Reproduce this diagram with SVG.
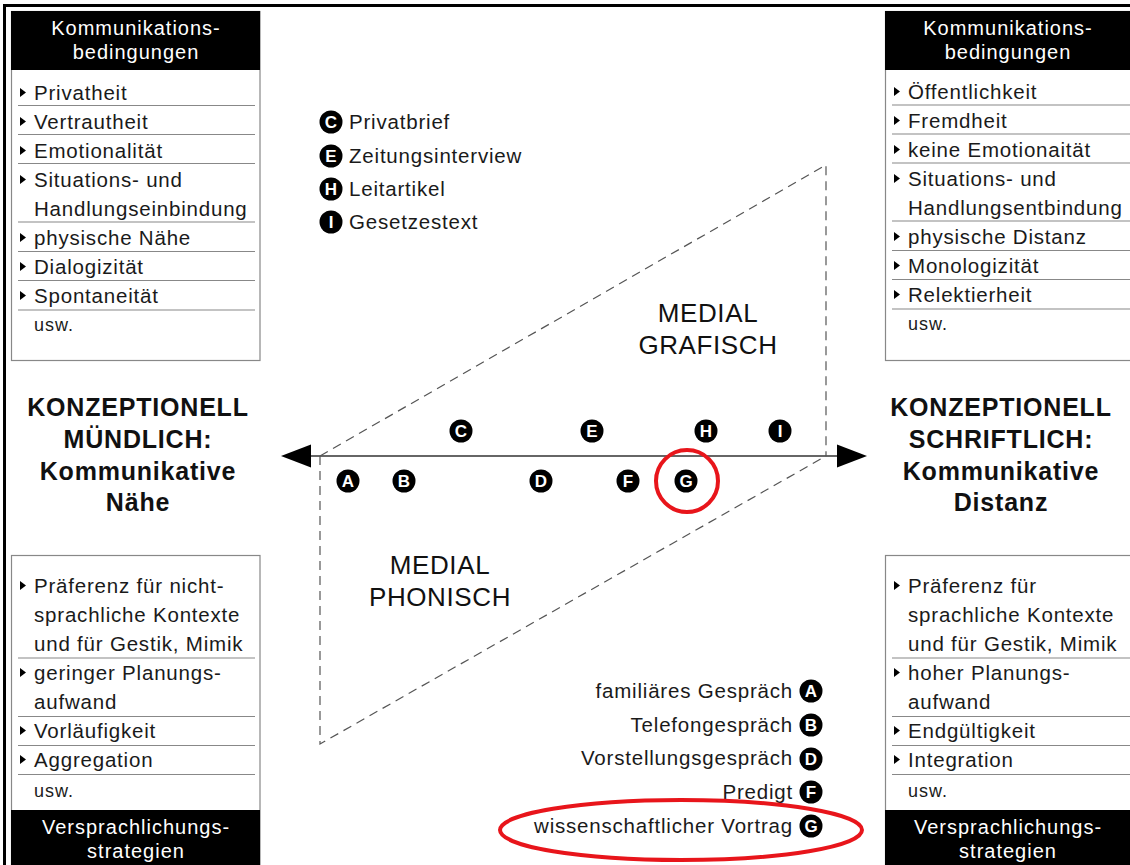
<svg xmlns="http://www.w3.org/2000/svg" xmlns:xlink="http://www.w3.org/1999/xlink" width="1130" height="865" viewBox="0 0 1130 865">
<style>
.t{font-family:"Liberation Sans",Arial,sans-serif;font-size:20.5px;letter-spacing:0.8px;fill:#1a1a1a}
.u{font-size:18px;letter-spacing:1px}
.h{font-family:"Liberation Sans",Arial,sans-serif;font-size:20px;letter-spacing:1px;fill:#fff;text-anchor:middle}
.big{font-family:"Liberation Sans",Arial,sans-serif;font-size:25px;letter-spacing:0.8px;font-weight:bold;fill:#111;text-anchor:middle}
.med{font-family:"Liberation Sans",Arial,sans-serif;font-size:26px;letter-spacing:0.6px;fill:#111;text-anchor:middle}
.box{fill:#fff;stroke:#888;stroke-width:1.2}
.sep{stroke:#888;stroke-width:1.2}
.dash{fill:none;stroke:#555;stroke-width:1.2;stroke-dasharray:9,6}
.bl{fill:#000}
.bt{font-family:"Liberation Sans",Arial,sans-serif;font-size:17px;font-weight:bold;fill:#fff;text-anchor:middle}
.lg{font-family:"Liberation Sans",Arial,sans-serif;font-size:20.5px;letter-spacing:0.8px;fill:#1a1a1a}
.red{fill:none;stroke:#e8151b;stroke-width:4}
</style>
<defs>
<path id="tri" d="M0,0 L6,4.5 L0,9 Z" fill="#000"/>
<circle id="dot" r="11.5" fill="#000"/>
</defs>
<rect width="1130" height="865" fill="#fff"/>
<rect x="3" y="4" width="1127" height="3" fill="#000"/>
<rect x="3" y="4" width="3" height="861" fill="#000"/>

<g id="box-tl">
<rect class="box" x="11.5" y="11.5" width="248.5" height="349"/>
<rect class="bl" x="11" y="11" width="249" height="59"/>
<text class="h" x="136" y="35">Kommunikations-</text>
<text class="h" x="136" y="59">bedingungen</text>
<use xlink:href="#tri" x="20" y="88"/><text class="t" x="34" y="100">Privatheit</text>
<line class="sep" x1="18" y1="105.5" x2="255" y2="105.5"/>
<use xlink:href="#tri" x="20" y="117"/><text class="t" x="34" y="129">Vertrautheit</text>
<line class="sep" x1="18" y1="134.5" x2="255" y2="134.5"/>
<use xlink:href="#tri" x="20" y="146"/><text class="t" x="34" y="158">Emotionalität</text>
<line class="sep" x1="18" y1="163.5" x2="255" y2="163.5"/>
<use xlink:href="#tri" x="20" y="175"/><text class="t" x="34" y="187">Situations- und</text>
<text class="t" x="34" y="216">Handlungseinbindung</text>
<line class="sep" x1="18" y1="222" x2="255" y2="222"/>
<use xlink:href="#tri" x="20" y="233"/><text class="t" x="34" y="245">physische Nähe</text>
<line class="sep" x1="18" y1="251.5" x2="255" y2="251.5"/>
<use xlink:href="#tri" x="20" y="262"/><text class="t" x="34" y="274">Dialogizität</text>
<line class="sep" x1="18" y1="280.5" x2="255" y2="280.5"/>
<use xlink:href="#tri" x="20" y="291"/><text class="t" x="34" y="303">Spontaneität</text>
<line class="sep" x1="18" y1="310" x2="255" y2="310"/>
<text class="t u" x="34" y="331">usw.</text>
</g>

<g id="box-tr">
<rect class="box" x="885.5" y="11.5" width="250" height="349"/>
<rect class="bl" x="885" y="11" width="245" height="59"/>
<text class="h" x="1008" y="35">Kommunikations-</text>
<text class="h" x="1008" y="59">bedingungen</text>
<use xlink:href="#tri" x="894" y="87"/><text class="t" x="908" y="99">Öffentlichkeit</text>
<line class="sep" x1="892" y1="105" x2="1130" y2="105"/>
<use xlink:href="#tri" x="894" y="116"/><text class="t" x="908" y="128">Fremdheit</text>
<line class="sep" x1="892" y1="134" x2="1130" y2="134"/>
<use xlink:href="#tri" x="894" y="145"/><text class="t" x="908" y="157">keine Emotionaität</text>
<line class="sep" x1="892" y1="163" x2="1130" y2="163"/>
<use xlink:href="#tri" x="894" y="174"/><text class="t" x="908" y="186">Situations- und</text>
<text class="t" x="908" y="215">Handlungsentbindung</text>
<line class="sep" x1="892" y1="221" x2="1130" y2="221"/>
<use xlink:href="#tri" x="894" y="232"/><text class="t" x="908" y="244">physische Distanz</text>
<line class="sep" x1="892" y1="250.5" x2="1130" y2="250.5"/>
<use xlink:href="#tri" x="894" y="261"/><text class="t" x="908" y="273">Monologizität</text>
<line class="sep" x1="892" y1="279.5" x2="1130" y2="279.5"/>
<use xlink:href="#tri" x="894" y="290"/><text class="t" x="908" y="302">Relektierheit</text>
<line class="sep" x1="892" y1="309" x2="1130" y2="309"/>
<text class="t u" x="908" y="330">usw.</text>
</g>

<g id="box-bl">
<rect class="box" x="11.5" y="555.5" width="248.5" height="320"/>
<use xlink:href="#tri" x="20" y="581"/><text class="t" x="34" y="593">Präferenz für nicht-</text>
<text class="t" x="34" y="622">sprachliche Kontexte</text>
<text class="t" x="34" y="651">und für Gestik, Mimik</text>
<line class="sep" x1="18" y1="658" x2="255" y2="658"/>
<use xlink:href="#tri" x="20" y="668"/><text class="t" x="34" y="680">geringer Planungs-</text>
<text class="t" x="34" y="709">aufwand</text>
<line class="sep" x1="18" y1="716.5" x2="255" y2="716.5"/>
<use xlink:href="#tri" x="20" y="726"/><text class="t" x="34" y="738">Vorläufigkeit</text>
<line class="sep" x1="18" y1="745.5" x2="255" y2="745.5"/>
<use xlink:href="#tri" x="20" y="755"/><text class="t" x="34" y="767">Aggregation</text>
<line class="sep" x1="18" y1="774.5" x2="255" y2="774.5"/>
<text class="t u" x="34" y="797">usw.</text>
<rect class="bl" x="11" y="810" width="249" height="55"/>
<text class="h" x="136" y="834">Versprachlichungs-</text>
<text class="h" x="136" y="858">strategien</text>
</g>

<g id="box-br">
<rect class="box" x="885.5" y="555.5" width="250" height="320"/>
<use xlink:href="#tri" x="894" y="581"/><text class="t" x="908" y="593">Präferenz für</text>
<text class="t" x="908" y="622">sprachliche Kontexte</text>
<text class="t" x="908" y="651">und für Gestik, Mimik</text>
<line class="sep" x1="892" y1="658" x2="1130" y2="658"/>
<use xlink:href="#tri" x="894" y="668"/><text class="t" x="908" y="680">hoher Planungs-</text>
<text class="t" x="908" y="709">aufwand</text>
<line class="sep" x1="892" y1="716.5" x2="1130" y2="716.5"/>
<use xlink:href="#tri" x="894" y="726"/><text class="t" x="908" y="738">Endgültigkeit</text>
<line class="sep" x1="892" y1="745.5" x2="1130" y2="745.5"/>
<use xlink:href="#tri" x="894" y="755"/><text class="t" x="908" y="767">Integration</text>
<line class="sep" x1="892" y1="774.5" x2="1130" y2="774.5"/>
<text class="t u" x="908" y="797">usw.</text>
<rect class="bl" x="885" y="810" width="245" height="55"/>
<text class="h" x="1008" y="834">Versprachlichungs-</text>
<text class="h" x="1008" y="858">strategien</text>
</g>

<g id="label-left">
<text class="big" x="138" y="416">KONZEPTIONELL</text>
<text class="big" x="138" y="448">MÜNDLICH:</text>
<text class="big" x="138" y="480">Kommunikative</text>
<text class="big" x="138" y="511">Nähe</text>
</g>
<g id="label-right">
<text class="big" x="1001" y="416">KONZEPTIONELL</text>
<text class="big" x="1001" y="448">SCHRIFTLICH:</text>
<text class="big" x="1001" y="480">Kommunikative</text>
<text class="big" x="1001" y="511">Distanz</text>
</g>

<g id="connectors">
<line x1="308" y1="456" x2="840" y2="456" stroke="#333" stroke-width="1.6"/>
<path d="M281,456 L311,444.5 L311,467.5 Z" fill="#000"/>
<path d="M867,456 L837,444.5 L837,467.5 Z" fill="#000"/>
<path class="dash" d="M320,456 L826,165 L826,456"/>
<path class="dash" d="M320,456 L320,744 L826,456"/>
</g>

<g id="medial-grafisch"><text class="med" x="708" y="322">MEDIAL</text><text class="med" x="708" y="354">GRAFISCH</text></g>
<g id="medial-phonisch"><text class="med" x="440" y="574">MEDIAL</text><text class="med" x="440" y="606">PHONISCH</text></g>

<g id="badges">
<g transform="translate(461,431)"><use xlink:href="#dot"/><text class="bt" y="6">C</text></g>
<g transform="translate(592,431)"><use xlink:href="#dot"/><text class="bt" y="6">E</text></g>
<g transform="translate(706,431)"><use xlink:href="#dot"/><text class="bt" y="6">H</text></g>
<g transform="translate(780,431)"><use xlink:href="#dot"/><text class="bt" y="6">I</text></g>
<g transform="translate(348,481)"><use xlink:href="#dot"/><text class="bt" y="6">A</text></g>
<g transform="translate(404,481)"><use xlink:href="#dot"/><text class="bt" y="6">B</text></g>
<g transform="translate(541,481)"><use xlink:href="#dot"/><text class="bt" y="6">D</text></g>
<g transform="translate(628,481)"><use xlink:href="#dot"/><text class="bt" y="6">F</text></g>
<g transform="translate(686,481)"><use xlink:href="#dot"/><text class="bt" y="6">G</text></g>
<circle class="red" cx="687" cy="481" r="31"/>
</g>

<g id="legend-top">
<g transform="translate(331,122)"><use xlink:href="#dot"/><text class="bt" y="6">C</text></g>
<text class="lg" x="349" y="129">Privatbrief</text>
<g transform="translate(331,156)"><use xlink:href="#dot"/><text class="bt" y="6">E</text></g>
<text class="lg" x="349" y="163">Zeitungsinterview</text>
<g transform="translate(331,189)"><use xlink:href="#dot"/><text class="bt" y="6">H</text></g>
<text class="lg" x="349" y="196">Leitartikel</text>
<g transform="translate(331,222)"><use xlink:href="#dot"/><text class="bt" y="6">I</text></g>
<text class="lg" x="349" y="229">Gesetzestext</text>
</g>

<g id="legend-bottom">
<text class="lg" x="793" y="698" text-anchor="end">familiäres Gespräch</text>
<g transform="translate(811,691)"><use xlink:href="#dot"/><text class="bt" y="6">A</text></g>
<text class="lg" x="793" y="732" text-anchor="end">Telefongespräch</text>
<g transform="translate(811,725)"><use xlink:href="#dot"/><text class="bt" y="6">B</text></g>
<text class="lg" x="793" y="765" text-anchor="end">Vorstellungsgespräch</text>
<g transform="translate(811,759)"><use xlink:href="#dot"/><text class="bt" y="6">D</text></g>
<text class="lg" x="793" y="799" text-anchor="end">Predigt</text>
<g transform="translate(811,792)"><use xlink:href="#dot"/><text class="bt" y="6">F</text></g>
<text class="lg" x="793" y="833" text-anchor="end">wissenschaftlicher Vortrag</text>
<g transform="translate(811,826)"><use xlink:href="#dot"/><text class="bt" y="6">G</text></g>
<ellipse class="red" cx="681" cy="830" rx="181" ry="30"/>
</g>
</svg>
